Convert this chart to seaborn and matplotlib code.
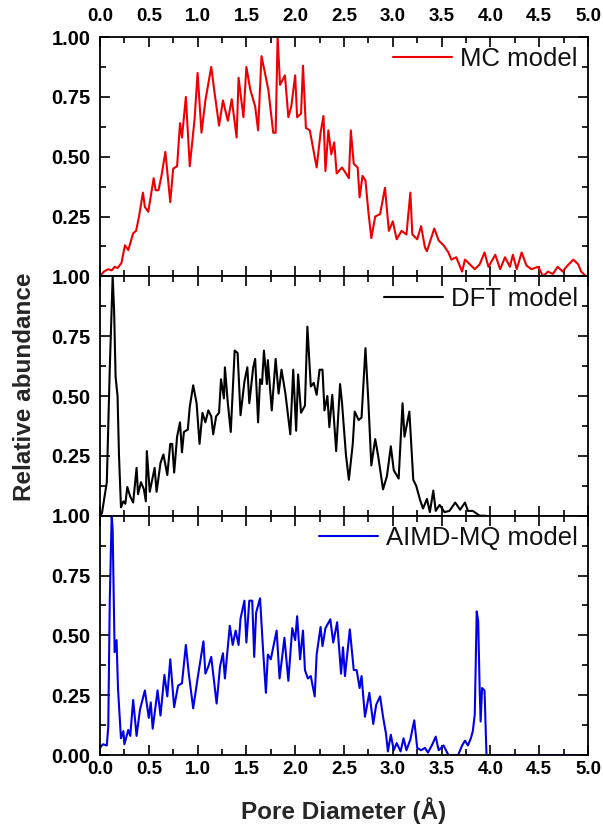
import numpy as np
import pandas as pd
import matplotlib
matplotlib.use("Agg")
import matplotlib.pyplot as plt
from matplotlib.ticker import MultipleLocator
import seaborn as sns

# Pore-size distributions (pore diameter in Å, relative abundance)
mc_x = [0.00, 0.04, 0.085, 0.12, 0.15, 0.18, 0.22, 0.256, 0.29, 0.34, 0.37, 0.40,
        0.44, 0.46, 0.495, 0.55, 0.57, 0.60, 0.63, 0.67, 0.72, 0.75, 0.79, 0.82,
        0.84, 0.88, 0.92, 0.97, 1.00, 1.04, 1.08, 1.14, 1.17, 1.22, 1.26, 1.31,
        1.35, 1.40, 1.42, 1.47, 1.50, 1.54, 1.59, 1.62, 1.655, 1.69, 1.725, 1.775,
        1.80, 1.82, 1.845, 1.895, 1.93, 1.96, 2.00, 2.02, 2.06, 2.08, 2.11, 2.15,
        2.22, 2.26, 2.29, 2.31, 2.34, 2.37, 2.40, 2.425, 2.48, 2.52, 2.55, 2.57,
        2.60, 2.64, 2.66, 2.69, 2.72, 2.75, 2.78, 2.82, 2.87, 2.92, 2.96, 3.00,
        3.04, 3.09, 3.14, 3.18, 3.20, 3.25, 3.29, 3.33, 3.35, 3.425, 3.47, 3.52,
        3.57, 3.60, 3.65, 3.71, 3.74, 3.79, 3.84, 3.89, 3.94, 3.98, 4.05, 4.10,
        4.15, 4.20, 4.23, 4.27, 4.32, 4.37, 4.42, 4.49, 4.54, 4.59, 4.64, 4.69,
        4.74, 4.79, 4.85, 4.90, 4.93, 4.98, 5.00]
mc_y = [0.00, 0.02, 0.03, 0.025, 0.04, 0.035, 0.056, 0.13, 0.11, 0.18, 0.19, 0.25,
        0.35, 0.29, 0.27, 0.41, 0.36, 0.36, 0.42, 0.52, 0.31, 0.45, 0.46, 0.64,
        0.58, 0.75, 0.46, 0.66, 0.85, 0.60, 0.735, 0.875, 0.78, 0.63, 0.735, 0.65,
        0.74, 0.58, 0.83, 0.665, 0.875, 0.78, 0.71, 0.61, 0.92, 0.85, 0.78, 0.60,
        0.60, 1.00, 0.80, 0.84, 0.665, 0.71, 0.84, 0.665, 0.68, 0.88, 0.62, 0.61,
        0.455, 0.60, 0.67, 0.44, 0.61, 0.51, 0.56, 0.43, 0.455, 0.43, 0.41, 0.61,
        0.47, 0.455, 0.33, 0.42, 0.40, 0.27, 0.16, 0.25, 0.26, 0.37, 0.19, 0.23,
        0.155, 0.19, 0.175, 0.35, 0.175, 0.155, 0.21, 0.12, 0.105, 0.20, 0.15, 0.13,
        0.10, 0.07, 0.08, 0.02, 0.07, 0.05, 0.03, 0.05, 0.10, 0.04, 0.09, 0.03,
        0.08, 0.04, 0.09, 0.03, 0.10, 0.045, 0.03, 0.04, 0.00, 0.02, 0.01, 0.04,
        0.02, 0.045, 0.07, 0.05, 0.02, 0.00, 0.00]

dft_x = [0.00, 0.02, 0.07, 0.10, 0.13, 0.145, 0.16, 0.18, 0.195, 0.215, 0.24, 0.26,
         0.28, 0.31, 0.34, 0.375, 0.39, 0.42, 0.45, 0.47, 0.48, 0.51, 0.53, 0.56,
         0.58, 0.62, 0.65, 0.69, 0.72, 0.74, 0.76, 0.79, 0.82, 0.84, 0.86, 0.90,
         0.92, 0.955, 0.99, 1.02, 1.05, 1.08, 1.11, 1.14, 1.16, 1.19, 1.22, 1.24,
         1.27, 1.28, 1.31, 1.34, 1.38, 1.41, 1.44, 1.48, 1.51, 1.53, 1.57, 1.59,
         1.62, 1.64, 1.66, 1.68, 1.71, 1.72, 1.76, 1.80, 1.83, 1.86, 1.90, 1.95,
         1.98, 2.01, 2.03, 2.06, 2.10, 2.125, 2.16, 2.19, 2.22, 2.25, 2.28, 2.30,
         2.33, 2.35, 2.38, 2.42, 2.46, 2.48, 2.52, 2.55, 2.59, 2.61, 2.65, 2.68,
         2.72, 2.75, 2.78, 2.82, 2.85, 2.90, 2.94, 2.98, 3.01, 3.06, 3.10, 3.12,
         3.17, 3.21, 3.24, 3.28, 3.31, 3.35, 3.38, 3.415, 3.44, 3.48, 3.53, 3.58,
         3.64, 3.69, 3.74, 3.77, 3.82, 3.89, 3.95]
dft_y = [0.00, 0.01, 0.14, 0.61, 1.00, 0.855, 0.58, 0.50, 0.25, 0.035, 0.06, 0.05,
         0.12, 0.08, 0.055, 0.20, 0.09, 0.14, 0.11, 0.06, 0.27, 0.10, 0.14, 0.20,
         0.10, 0.22, 0.256, 0.17, 0.30, 0.30, 0.18, 0.33, 0.39, 0.265, 0.35, 0.36,
         0.455, 0.545, 0.47, 0.30, 0.43, 0.39, 0.44, 0.415, 0.34, 0.415, 0.43, 0.57,
         0.49, 0.62, 0.47, 0.35, 0.69, 0.68, 0.42, 0.56, 0.62, 0.47, 0.62, 0.655,
         0.39, 0.57, 0.55, 0.69, 0.55, 0.65, 0.44, 0.655, 0.51, 0.61, 0.51, 0.34,
         0.61, 0.355, 0.59, 0.43, 0.46, 0.79, 0.54, 0.555, 0.505, 0.61, 0.61, 0.44,
         0.50, 0.37, 0.505, 0.27, 0.55, 0.47, 0.255, 0.15, 0.30, 0.435, 0.40, 0.41,
         0.70, 0.475, 0.21, 0.32, 0.25, 0.11, 0.165, 0.29, 0.19, 0.155, 0.47, 0.33,
         0.435, 0.15, 0.125, 0.065, 0.03, 0.07, 0.015, 0.105, 0.02, 0.045, 0.015, 0.02,
         0.055, 0.025, 0.055, 0.02, 0.02, 0.00, 0.00]

aimd_x = [0.00, 0.03, 0.07, 0.085, 0.10, 0.12, 0.13, 0.15, 0.17, 0.185, 0.215, 0.24,
          0.25, 0.29, 0.31, 0.34, 0.375, 0.41, 0.46, 0.50, 0.52, 0.54, 0.59, 0.62,
          0.66, 0.69, 0.72, 0.76, 0.80, 0.84, 0.88, 0.91, 0.955, 1.00, 1.06, 1.08,
          1.11, 1.14, 1.195, 1.23, 1.26, 1.28, 1.33, 1.36, 1.39, 1.42, 1.44, 1.48,
          1.50, 1.53, 1.56, 1.58, 1.60, 1.64, 1.67, 1.70, 1.72, 1.75, 1.77, 1.81,
          1.84, 1.89, 1.93, 1.97, 2.00, 2.02, 2.05, 2.08, 2.10, 2.13, 2.16, 2.20,
          2.22, 2.26, 2.28, 2.31, 2.36, 2.39, 2.43, 2.47, 2.49, 2.51, 2.56, 2.60,
          2.63, 2.66, 2.68, 2.715, 2.76, 2.80, 2.83, 2.87, 2.90, 2.93, 2.95, 2.98,
          3.01, 3.04, 3.08, 3.11, 3.14, 3.18, 3.22, 3.25, 3.29, 3.33, 3.36, 3.40,
          3.44, 3.47, 3.52, 3.57, 3.67, 3.71, 3.74, 3.77, 3.80, 3.82, 3.84, 3.86,
          3.875, 3.89, 3.90, 3.915, 3.94, 3.96, 5.00]
aimd_y = [0.03, 0.045, 0.04, 0.12, 0.64, 1.00, 0.94, 0.43, 0.48, 0.275, 0.07, 0.10,
          0.045, 0.105, 0.08, 0.23, 0.08, 0.19, 0.27, 0.155, 0.22, 0.11, 0.27, 0.165,
          0.335, 0.245, 0.40, 0.20, 0.29, 0.30, 0.46, 0.34, 0.195, 0.32, 0.475, 0.34,
          0.37, 0.41, 0.215, 0.37, 0.425, 0.32, 0.54, 0.46, 0.52, 0.46, 0.57, 0.645,
          0.47, 0.645, 0.645, 0.41, 0.595, 0.655, 0.445, 0.26, 0.42, 0.40, 0.44, 0.52,
          0.32, 0.49, 0.31, 0.53, 0.48, 0.58, 0.40, 0.52, 0.355, 0.32, 0.33, 0.245,
          0.42, 0.535, 0.455, 0.53, 0.567, 0.47, 0.555, 0.34, 0.45, 0.33, 0.525, 0.355,
          0.355, 0.28, 0.33, 0.16, 0.26, 0.13, 0.21, 0.245, 0.16, 0.09, 0.015, 0.085,
          0.02, 0.05, 0.015, 0.07, 0.02, 0.065, 0.145, 0.03, 0.02, 0.03, 0.01, 0.04,
          0.077, 0.02, 0.04, 0.00, 0.00, 0.04, 0.06, 0.04, 0.07, 0.10, 0.17, 0.60,
          0.56, 0.28, 0.14, 0.28, 0.27, 0.00, 0.00]

series = [
    ("MC model", mc_x, mc_y, "#ee0000"),
    ("DFT model", dft_x, dft_y, "#000000"),
    ("AIMD-MQ model", aimd_x, aimd_y, "#0000e6"),
]

x_ticks = [0.0, 0.5, 1.0, 1.5, 2.0, 2.5, 3.0, 3.5, 4.0, 4.5, 5.0]
y_ticks = [0.00, 0.25, 0.50, 0.75, 1.00]

sns.set_theme(style="ticks")
plt.rcParams["font.family"] = ["Liberation Sans", "DejaVu Sans"]
plt.rcParams["axes.linewidth"] = 1.3

fig, axes = plt.subplots(3, 1, figsize=(6.03, 8.32), dpi=100, sharex=True,
                         gridspec_kw=dict(hspace=0.0))
fig.subplots_adjust(left=0.1658, right=0.9751, top=0.9555, bottom=0.0925)

for i, (ax, (name, xs, ys, col)) in enumerate(zip(axes, series)):
    df = pd.DataFrame({"d": xs, "a": ys})
    sns.lineplot(data=df, x="d", y="a", ax=ax, color=col, lw=1.5,
                 label=name, estimator=None, sort=False)
    ax.set_xlim(0, 5)
    ax.set_ylim(0, 1)
    ax.set_xticks(x_ticks, [f"{v:.1f}" for v in x_ticks])
    ax.xaxis.set_minor_locator(MultipleLocator(0.25))
    ax.yaxis.set_minor_locator(MultipleLocator(0.125))
    ylabels = [f"{v:.2f}" for v in y_ticks]
    if i < 2:
        ylabels[0] = ""
    ax.set_yticks(y_ticks, ylabels)
    ax.tick_params(which="both", direction="in", top=True, right=True,
                   bottom=True, left=True, colors="black", width=1.2)
    ax.tick_params(which="major", length=7)
    ax.tick_params(which="minor", length=4)
    ax.tick_params(axis="y", labelsize=14.5, pad=7)
    ax.tick_params(axis="x", labelsize=13.5, labeltop=(i == 0),
                   labelbottom=(i == 2))
    for lab in ax.get_xticklabels() + ax.get_yticklabels():
        lab.set_fontweight("bold")
    for s in ax.spines.values():
        s.set_color("black")
    ax.set_xlabel("")
    ax.set_ylabel("")
    leg = ax.legend(loc="upper right", frameon=False, fontsize=18.5,
                    handlelength=2.3, handletextpad=0.3, borderaxespad=0.1,
                    borderpad=0.3)
    for t in leg.get_texts():
        t.set_color("#111111")

axes[0].tick_params(axis="x", which="major", pad=9)
axes[2].tick_params(axis="x", which="major", pad=4)
axes[2].set_xlabel("Pore Diameter (Å)", fontsize=17.5, fontweight="bold",
                   labelpad=14)
fig.text(0.04, 0.535, "Relative abundance", rotation=90, fontsize=17.5,
         fontweight="bold", ha="center", va="center")

fig.savefig("out.png", dpi=100)
